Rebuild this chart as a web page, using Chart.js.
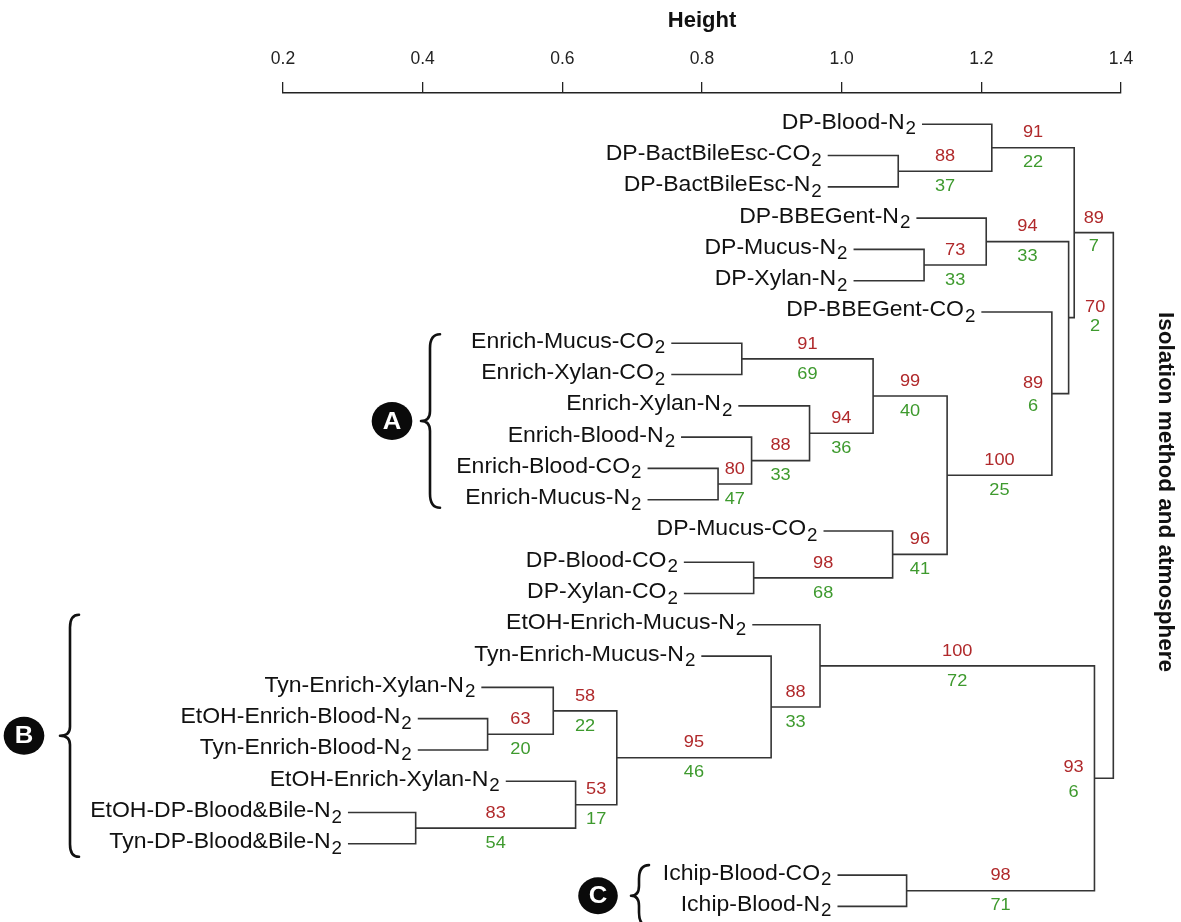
<!DOCTYPE html>
<html>
<head>
<meta charset="utf-8">
<title>Isolation method and atmosphere dendrogram</title>
<script src="https://cdn.jsdelivr.net/npm/chart.js@4.4.1/dist/chart.umd.min.js"></script>
<style>
  html, body { margin: 0; padding: 0; background: #ffffff; }
  #wrap { width: 1181px; height: 922px; position: relative; }
</style>
</head>
<body>
<div id="wrap"><canvas id="tree" width="1181" height="922"></canvas></div>
<script>
// ---- data -------------------------------------------------------------
// leaves, top to bottom (last character is the gas subscript)
const leafNames = [
  'DP-Blood-N2', 'DP-BactBileEsc-CO2', 'DP-BactBileEsc-N2', 'DP-BBEGent-N2',
  'DP-Mucus-N2', 'DP-Xylan-N2', 'DP-BBEGent-CO2',
  'Enrich-Mucus-CO2', 'Enrich-Xylan-CO2', 'Enrich-Xylan-N2', 'Enrich-Blood-N2',
  'Enrich-Blood-CO2', 'Enrich-Mucus-N2',
  'DP-Mucus-CO2', 'DP-Blood-CO2', 'DP-Xylan-CO2',
  'EtOH-Enrich-Mucus-N2', 'Tyn-Enrich-Mucus-N2', 'Tyn-Enrich-Xylan-N2',
  'EtOH-Enrich-Blood-N2', 'Tyn-Enrich-Blood-N2', 'EtOH-Enrich-Xylan-N2',
  'EtOH-DP-Blood&Bile-N2', 'Tyn-DP-Blood&Bile-N2',
  'Ichip-Blood-CO2', 'Ichip-Blood-N2'
];
// height at which each leaf branch starts
const leafStart = [
  1.115, 0.980, 0.980, 1.107, 1.017, 1.017, 1.200,
  0.756, 0.756, 0.852, 0.770, 0.722, 0.722,
  0.974, 0.774, 0.774,
  0.872, 0.799, 0.484, 0.393, 0.393, 0.519, 0.293, 0.293,
  0.994, 0.994
];
// merge table (negative = leaf number, positive = earlier merge step)
const mergeLeft   = [-2, -1, -5, -4, -12, -11, -10, -8, 8, -15, -14, 9, -7, 4, 2, -20, -19, -23, -22, 17, -18, -17, -25, 22, 15];
const mergeRight  = [-3,  1, -6,  3, -13,   5,   6, -9, 7, -16,  10, 11, 12, 13, 14, -21, 16, -24, 18, 19, 20, 21, -26, 23, 24];
const mergeHeight = [1.081, 1.215, 1.118, 1.207, 0.823, 0.871, 0.954, 0.857, 1.045, 0.874, 1.073, 1.151,
                     1.301, 1.325, 1.333, 0.493, 0.587, 0.390, 0.619, 0.678, 0.899, 0.969, 1.093, 1.362, 1.389];
// support values per merge (upper / lower)
const supportRed   = [88, 91, 73, 94, 80, 88, 94, 91, 99, 98, 96, 100, 89, 70, 89, 63, 58, 83, 53, 95, 88, 100, 98, 93, null];
const supportGreen = [37, 22, 33, 33, 47, 33, 36, 69, 40, 68, 41, 25, 6, 2, 7, 20, 22, 54, 17, 46, 33, 72, 71, 6, null];
// axis ticks
const heightTicks = [0.2, 0.4, 0.6, 0.8, 1.0, 1.2, 1.4];
// bracketed groups
const groupLetters   = ['A', 'B', 'C'];
const groupFirstLeaf = [7, 16, 24];
const groupLastLeaf  = [12, 23, 25];

// ---- styling / layout constants ----------------------------------------
const FAMILY = '"Liberation Sans", Arial, Helvetica, sans-serif';
const LEAF_FONT = '21.5px ' + FAMILY;
const SUB_FONT = '17.5px ' + FAMILY;
const SUPPORT_FONT = '17px ' + FAMILY;
const WIDEN = 1.07;            // horizontal text stretch
const RED = '#b0292b';
const GREEN = '#3e9a2e';
const LINE = '#353535';
// labels whose branch is too short to hold them
const supportPlacement = {
  13: { x: 1.274, up: 10.5, down: 12.5 },
  14: { x: 1.363, up: 10.5, down: 9 },
  15: { up: 14.5, down: 13.5 },
  24: { x: 1.332, up: 10.5, down: 14.5 }
};
// bracket geometry in pixels: stroke x, tip x, end x, badge x, extra above / below
const groupGeom = [
  { stroke: 430, tip: 421, end: 440, cx: 392, r: 19, above: 9,  below: 8 },
  { stroke: 70,  tip: 60,  end: 79,  cx: 24,  r: 19, above: 10, below: 13 },
  { stroke: 639, tip: 631, end: 649, cx: 598, r: 18.5, above: 10, below: 20 }
];

// ---- tree geometry ----------------------------------------------------
const nodeY = [];      // vertical position of each merge (leaf index units)
const parentOf = [];
function childPos(ref) {
  if (ref < 0) return { h: leafStart[-ref - 1], y: -ref - 1 };
  return { h: mergeHeight[ref - 1], y: nodeY[ref - 1] };
}
mergeHeight.forEach((h, j) => {
  const a = childPos(mergeLeft[j]);
  const b = childPos(mergeRight[j]);
  nodeY[j] = (a.y + b.y) / 2;
  if (mergeLeft[j] > 0) parentOf[mergeLeft[j] - 1] = j;
  if (mergeRight[j] > 0) parentOf[mergeRight[j] - 1] = j;
});

const datasets = mergeHeight.map((h, j) => {
  const a = childPos(mergeLeft[j]);
  const b = childPos(mergeRight[j]);
  return {
    data: [{ x: a.h, y: a.y }, { x: h, y: a.y }, { x: h, y: b.y }, { x: b.h, y: b.y }],
    showLine: true,
    borderColor: LINE,
    borderWidth: 1.6,
    borderJoinStyle: 'miter',
    borderCapStyle: 'butt',
    pointRadius: 0,
    pointHoverRadius: 0,
    tension: 0,
    fill: false
  };
});

// ---- annotations drawn on top ------------------------------------------
function wideText(ctx, text, x, y) {
  ctx.save();
  ctx.translate(x, y);
  ctx.scale(WIDEN, 1);
  ctx.fillText(text, 0, 0);
  ctx.restore();
}

function drawBrace(ctx, g, yTop, yMid, yBot) {
  const c = g.end - g.stroke;
  ctx.beginPath();
  ctx.moveTo(g.end, yTop);
  ctx.quadraticCurveTo(g.stroke, yTop, g.stroke, yTop + c * 1.4);
  ctx.lineTo(g.stroke, yMid - c * 1.0);
  ctx.quadraticCurveTo(g.stroke, yMid, g.tip, yMid);
  ctx.quadraticCurveTo(g.stroke, yMid, g.stroke, yMid + c * 1.0);
  ctx.lineTo(g.stroke, yBot - c * 1.4);
  ctx.quadraticCurveTo(g.stroke, yBot, g.end, yBot);
  ctx.stroke();
}

const treeLabels = {
  id: 'treeLabels',
  afterDraw(chart) {
    const ctx = chart.ctx;
    const xs = chart.scales.x, ys = chart.scales.y;
    ctx.save();

    // leaf names with subscript
    ctx.fillStyle = '#111';
    ctx.textAlign = 'right';
    ctx.textBaseline = 'alphabetic';
    leafNames.forEach((name, i) => {
      const base = name.slice(0, -1), sub = name.slice(-1);
      const x = xs.getPixelForValue(leafStart[i]) - 6;
      const y = ys.getPixelForValue(i);
      ctx.font = SUB_FONT;
      const sw = ctx.measureText(sub).width * WIDEN;
      wideText(ctx, sub, x, y + 10);
      ctx.font = LEAF_FONT;
      wideText(ctx, base, x - sw - 1, y + 4.5);
    });

    // support values
    ctx.font = SUPPORT_FONT;
    ctx.textAlign = 'center';
    ctx.textBaseline = 'middle';
    mergeHeight.forEach((h, j) => {
      if (supportRed[j] == null) return;
      const place = supportPlacement[j + 1] || {};
      let x;
      if (place.x !== undefined) {
        x = xs.getPixelForValue(place.x);
      } else {
        const p = parentOf[j];
        x = (xs.getPixelForValue(h) + xs.getPixelForValue(mergeHeight[p])) / 2;
      }
      const y = ys.getPixelForValue(nodeY[j]);
      ctx.fillStyle = RED;
      wideText(ctx, String(supportRed[j]), x, y - (place.up !== undefined ? place.up : 15));
      ctx.fillStyle = GREEN;
      wideText(ctx, String(supportGreen[j]), x, y + (place.down !== undefined ? place.down : 15));
    });

    // group brackets with lettered badges
    groupLetters.forEach((letter, k) => {
      const g = groupGeom[k];
      const yTop = ys.getPixelForValue(groupFirstLeaf[k]) - g.above;
      const yBot = ys.getPixelForValue(groupLastLeaf[k]) + g.below;
      const yMid = (yTop + yBot) / 2;
      ctx.strokeStyle = '#111';
      ctx.lineWidth = 2.6;
      ctx.lineJoin = 'round';
      ctx.lineCap = 'round';
      drawBrace(ctx, g, yTop, yMid, yBot);
      ctx.beginPath();
      ctx.ellipse(g.cx, yMid, g.r * WIDEN, g.r, 0, 0, Math.PI * 2);
      ctx.fillStyle = '#0a0a0a';
      ctx.fill();
      ctx.fillStyle = '#ffffff';
      ctx.font = 'bold 24px ' + FAMILY;
      ctx.textAlign = 'center';
      ctx.textBaseline = 'middle';
      wideText(ctx, letter, g.cx, yMid + 1);
    });

    // side title
    ctx.translate(1165, 492);
    ctx.rotate(Math.PI / 2);
    ctx.fillStyle = '#111';
    ctx.font = 'bold 22.5px ' + FAMILY;
    ctx.textAlign = 'center';
    ctx.textBaseline = 'middle';
    ctx.fillText('Isolation method and atmosphere', 0, 0);
    ctx.restore();
  }
};

new Chart(document.getElementById('tree'), {
  type: 'scatter',
  data: { datasets },
  options: {
    responsive: false,
    animation: false,
    events: [],
    layout: { padding: { top: 8, left: 283, right: 60, bottom: 0 } },
    plugins: { legend: { display: false }, tooltip: { enabled: false } },
    scales: {
      x: {
        type: 'linear',
        position: 'top',
        min: 0.2,
        max: 1.4,
        afterBuildTicks: s => { s.ticks = heightTicks.map(v => ({ value: v })); },
        afterFit: s => { s.height = 85; },
        ticks: {
          callback: v => Number(v).toFixed(1),
          font: { family: FAMILY, size: 17.5 },
          color: '#222',
          padding: 12.5,
          maxRotation: 0,
          autoSkip: false
        },
        grid: {
          display: true,
          drawOnChartArea: false,
          drawTicks: true,
          tickLength: 11,
          color: '#222',
          lineWidth: 1.3
        },
        border: { display: true, color: '#222', width: 1.5 },
        title: {
          display: true,
          text: 'Height',
          font: { family: FAMILY, size: 22, weight: 'bold' },
          color: '#111',
          padding: { top: 0, bottom: 0 }
        }
      },
      y: {
        type: 'linear',
        display: false,
        reverse: true,
        min: -1,
        max: 25.5
      }
    }
  },
  plugins: [treeLabels]
});
</script>
</body>
</html>
